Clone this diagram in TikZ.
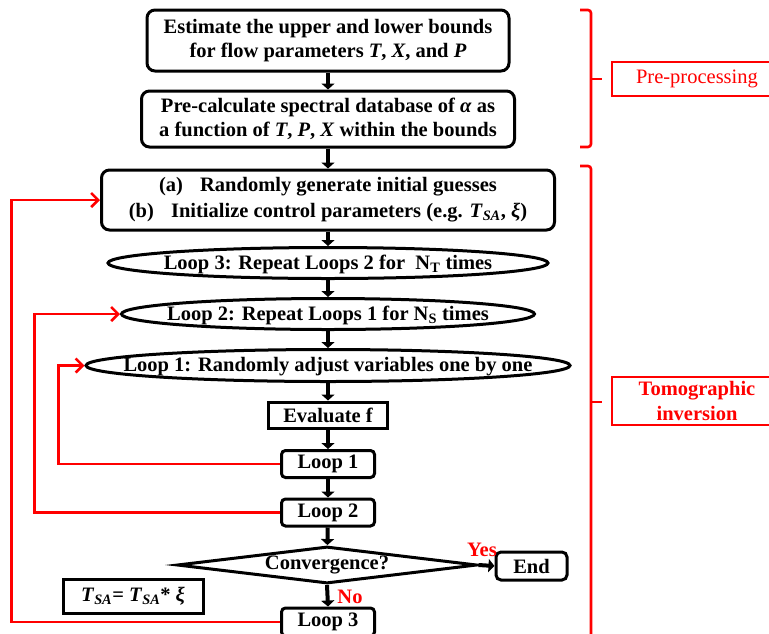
\documentclass[tikz,border=0pt]{standalone}
\usepackage{fontspec}
\setmainfont{Liberation Serif}
\usetikzlibrary{shapes.geometric,arrows.meta}
\definecolor{fred}{RGB}{255,0,0}
\begin{document}
\begin{tikzpicture}[x=1pt,y=-1pt,
  every node/.style={font=\fontsize{20.5}{24.5}\selectfont\bfseries, inner sep=0pt},
  rbox/.style={draw, line width=3pt, rounded corners=8pt, align=center},
  sbox/.style={draw, line width=3pt, rounded corners=4pt},
  pbox/.style={draw, line width=3pt},
  ell/.style={draw, ellipse, line width=3pt},
  barrow/.style={line width=4pt, -{Triangle[length=6pt,width=13pt]}},
  rarrow/.style={draw=fred, line width=2.6pt, -{Straight Barb[length=7pt,width=14pt]}},
  rline/.style={draw=fred, line width=2.6pt},
  lab/.style={draw=fred, line width=2.8pt, text=fred, align=center},
  rtext/.style={text=fred}
]
\useasboundingbox (0,0) rectangle (769,633);
\clip (0,0) rectangle (769,633);

% main column
\node[rbox, minimum width=362pt, minimum height=61pt] (b1) at (328,40.5)
  {Estimate the upper and lower bounds\\for flow parameters \textit{T}, \textit{X}, and \textit{P}};
\node[rbox, minimum width=373pt, minimum height=56pt] (b2) at (328,119)
  {Pre-calculate spectral database of \textit{α} as\\a function of \textit{T}, \textit{P}, \textit{X} within the bounds};
\node[rbox, minimum width=453pt, minimum height=60pt] (b3) at (328,200)
  {(a)\hspace{12pt} Randomly generate initial guesses\\[1.5pt]
   (b)\hspace{12pt} Initialize control parameters (e.g. \textit{T}\textsubscript{\textit{SA}}, \textit{ξ})};

\node[ell, minimum width=440pt, minimum height=31pt] (l3) at (328,263) {};
\node (l3t) at (328,264) {Loop 3: Repeat Loops 2 for\ \ N\textsubscript{T} times};
\node[ell, minimum width=413pt, minimum height=31pt] (l2) at (328,314) {};
\node (l2t) at (328,315) {Loop 2: Repeat Loops 1 for N\textsubscript{S} times};
\node[ell, minimum width=484pt, minimum height=32pt] (l1) at (328,365.5) {};
\node (l1t) at (328,366.5) {Loop 1: Randomly adjust variables one by one};

\node[pbox, minimum width=119pt, minimum height=26pt] (ev) at (328,415) {Evaluate f};
\node[sbox, minimum width=93pt, minimum height=27pt] (lp1) at (328,464) {Loop 1};
\node[sbox, minimum width=93pt, minimum height=27pt] (lp2) at (328,512.5) {Loop 2};
\node[diamond, draw, line width=3pt, aspect=8.3, minimum width=300pt, minimum height=37pt] (conv) at (327,565) {Convergence?};
\node[sbox, rounded corners=5pt, minimum width=71pt, minimum height=28pt] (end) at (531.5,566) {End};
\node[pbox, minimum width=140pt, minimum height=34pt] (tsa) at (133,596)
  {\textit{T}\textsubscript{\textit{SA}}= \textit{T}\textsubscript{\textit{SA}}* \textit{ξ}};
\node[sbox, minimum width=93pt, minimum height=28pt] (lp3) at (328,622) {Loop 3};

% black arrows
\draw[barrow] (b1) -- (b2);
\draw[barrow] (b2) -- (b3);
\draw[barrow] (b3) -- (l3);
\draw[barrow] (l3) -- (l2);
\draw[barrow] (l2) -- (l1);
\draw[barrow] (l1) -- (ev);
\draw[barrow] (ev) -- (lp1);
\draw[barrow] (lp1) -- (lp2);
\draw[barrow] (lp2) -- (conv);
\draw[barrow] (conv.south) -- (lp3.north);
\draw[barrow] (conv.east) -- (end.west);
\node[rtext] (yes) at (482,550) {Yes};
\node[rtext] (no) at (350,597) {No};

% red feedback loops
\draw[rarrow] (lp1.west) -- ++(-221.5,0) |- (l1.west);
\draw[rarrow] (lp2.west) -- ++(-245.5,0) |- (l2.west);
\draw[rarrow] (lp3.west) -- ++(-268.5,0) |- (b3.west);

% brackets
\draw[rline, rounded corners=3pt] (580,10) -- (591,10) -- (591,147) -- (580,147);
\draw[rline] (591,79) -- (602,79);
\draw[rline, rounded corners=3pt] (580,166) -- (591,166) -- (591,645);
\draw[rline] (591,402) -- (602,402);

\node[lab, minimum width=170pt, minimum height=34pt] (pre) at (697,79) {\mdseries Pre-processing};
\node[lab, minimum width=170pt, minimum height=48pt] (tomo) at (697,401) {Tomographic\\inversion};
\end{tikzpicture}
\end{document}
